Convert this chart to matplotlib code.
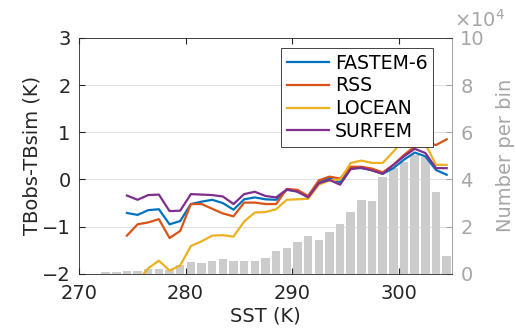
import matplotlib
matplotlib.use("Agg")
import matplotlib.pyplot as plt

# SST bin centres (K) for the TB difference curves
sst = [274.5, 275.5, 276.5, 277.5, 278.5, 279.5, 280.5, 281.5, 282.5, 283.5,
       284.5, 285.5, 286.5, 287.5, 288.5, 289.5, 290.5, 291.5, 292.5, 293.5,
       294.5, 295.5, 296.5, 297.5, 298.5, 299.5, 300.5, 301.5, 302.5, 303.5,
       304.5]

fastem6 = [-0.71, -0.75, -0.65, -0.63, -0.95, -0.88, -0.52, -0.47, -0.43, -0.50,
           -0.64, -0.42, -0.38, -0.42, -0.43, -0.22, -0.25, -0.36, -0.05, 0.03,
           -0.06, 0.24, 0.24, 0.20, 0.12, 0.24, 0.42, 0.57, 0.49, 0.20,
           0.10]
rss = [-1.19, -0.95, -0.91, -0.84, -1.24, -1.09, -0.52, -0.52, -0.62, -0.72,
       -0.78, -0.49, -0.49, -0.52, -0.52, -0.20, -0.22, -0.35, -0.02, 0.06,
       0.02, 0.27, 0.27, 0.23, 0.15, 0.31, 0.52, 0.70, 0.78, 0.73,
       0.85]
locean = [-2.40, -2.15, -1.88, -1.72, -1.93, -1.82, -1.41, -1.31, -1.19, -1.18,
          -1.21, -0.89, -0.70, -0.69, -0.63, -0.43, -0.42, -0.41, -0.11, -0.02,
          0.00, 0.35, 0.40, 0.35, 0.35, 0.59, 0.85, 0.95, 0.75, 0.31,
          0.31]
surfem = [-0.34, -0.43, -0.33, -0.32, -0.67, -0.66, -0.31, -0.32, -0.33, -0.36,
          -0.52, -0.31, -0.26, -0.35, -0.38, -0.21, -0.26, -0.38, -0.08, -0.01,
          -0.11, 0.22, 0.25, 0.19, 0.12, 0.31, 0.49, 0.65, 0.56, 0.24,
          0.24]

# Histogram of samples per SST bin (units of 1e4)
hist_bins = [272.5, 273.5, 274.5, 275.5, 276.5, 277.5, 278.5, 279.5, 280.5,
             281.5, 282.5, 283.5, 284.5, 285.5, 286.5, 287.5, 288.5, 289.5,
             290.5, 291.5, 292.5, 293.5, 294.5, 295.5, 296.5, 297.5, 298.5,
             299.5, 300.5, 301.5, 302.5, 303.5, 304.5]
hist_counts = [0.08, 0.06, 0.13, 0.14, 0.20, 0.21, 0.17, 0.38, 0.52,
               0.45, 0.55, 0.62, 0.54, 0.54, 0.55, 0.69, 0.98, 1.09,
               1.37, 1.60, 1.44, 1.77, 2.10, 2.63, 3.12, 3.09, 4.12,
               4.50, 4.76, 5.04, 4.97, 3.45, 0.76]

x_ticks = [270, 280, 290, 300]
left_ticks = [-2, -1, 0, 1, 2, 3]
right_ticks = [0, 2, 4, 6, 8, 10]

dark = "#262626"
grey_axis = "#a6a6a6"
bar_col = "#cccccc"
fs = 14

plt.rcParams["font.family"] = ["DejaVu Sans"]

fig = plt.figure(figsize=(5.16, 3.32), dpi=100)
ax = fig.add_axes([0.153, 0.175, 0.723, 0.711])
ax2 = ax.twinx()

# histogram on the right axis, drawn underneath
ax2.bar(hist_bins, hist_counts, width=0.8, color=bar_col, edgecolor="none", zorder=2)
ax2.set_ylim(0, 10)
ax2.set_yticks(right_ticks)
ax2.set_axisbelow(True)
ax2.grid(True, color="#e0e0e0", lw=0.7)
ax2.tick_params(axis="y", direction="in", length=4, colors=grey_axis,
                labelsize=fs, pad=6)
ax2.tick_params(axis="x", which="both", length=0)
for s in ["left", "top", "bottom"]:
    ax2.spines[s].set_visible(False)
ax2.spines["right"].set_color(grey_axis)
ax2.spines["right"].set_linewidth(0.8)
ax2.set_ylabel("Number per bin", color=grey_axis, fontsize=fs, labelpad=8)
ax2.text(1.005, 1.03, r"$\times10^{4}$", transform=ax2.transAxes,
         color=grey_axis, fontsize=fs, ha="left", va="bottom")

# curves on the left axis, on top
ax.set_zorder(ax2.get_zorder() + 1)
ax.patch.set_visible(False)
series = [("FASTEM-6", fastem6, "#0072BD"),
          ("RSS", rss, "#D95319"),
          ("LOCEAN", locean, "#EDB120"),
          ("SURFEM", surfem, "#7E2F8E")]
for name, vals, col in series:
    ax.plot(sst, vals, color=col, lw=1.6, label=name)

ax.set_xlim(270, 305)
ax.set_ylim(-2, 3)
ax.set_xticks(x_ticks)
ax.set_yticks(left_ticks)
ax.tick_params(axis="both", direction="in", length=4, colors=dark,
               labelsize=fs, top=True)
ax.tick_params(axis="x", pad=7)
ax.tick_params(axis="y", pad=6)
for s in ["left", "top", "bottom"]:
    ax.spines[s].set_color(dark)
    ax.spines[s].set_linewidth(0.6)
ax.spines["right"].set_visible(False)
ax.set_xlabel("SST (K)", color=dark, fontsize=fs, labelpad=3)
ax.set_ylabel("TBobs-TBsim (K)", color=dark, fontsize=fs, labelpad=0)

leg = ax.legend(loc="upper right", bbox_to_anchor=(0.95, 0.957), fontsize=13.6,
                frameon=True, fancybox=False, handlelength=2.25,
                handletextpad=0.3, borderpad=0.3, labelspacing=0.2,
                borderaxespad=0)
leg.get_frame().set_edgecolor(dark)
leg.get_frame().set_linewidth(0.6)
leg.get_frame().set_alpha(1)

fig.savefig("out.png", dpi=100)
